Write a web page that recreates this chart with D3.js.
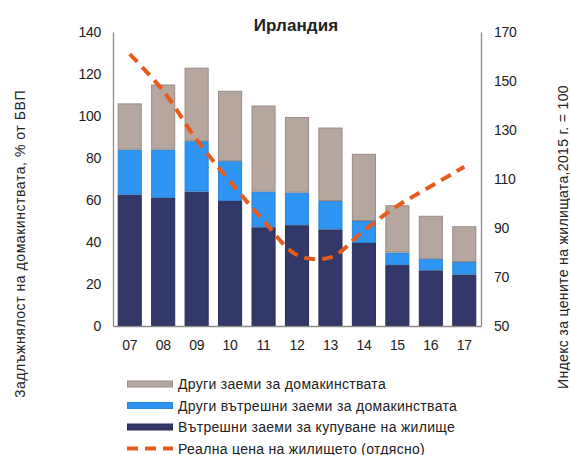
<!DOCTYPE html>
<html>
<head>
<meta charset="utf-8">
<script src="https://cdn.jsdelivr.net/npm/d3@7"></script>
<style>
  body { margin: 0; background: #fff; }
  text { font-family: "Liberation Sans", Arial, sans-serif; fill: #222; }
</style>
</head>
<body>
<div class="chart"></div>
<script>
// data
var years = ["07", "08", "09", "10", "11", "12", "13", "14", "15", "16", "17"]
var housingLoans = [62.5, 61, 64, 59.5, 47, 48, 46, 39.5, 29, 26.5, 24.5]
var otherDomestic = [21.5, 23, 24, 19, 17, 15.5, 13.5, 10.5, 6, 5.5, 6]
var otherLoans = [22, 31, 35, 33.5, 41, 36, 35, 32, 22.5, 20.5, 17]
var housePrice = [161, 146, 126, 109, 93, 79, 78, 89, 99, 107, 115]
var leftTicks = [0, 20, 40, 60, 80, 100, 120, 140]
var rightTicks = [50, 70, 90, 110, 130, 150, 170]
var seriesNames = ["Други заеми за домакинствата", "Други вътрешни заеми за домакинствата", "Вътрешни заеми за купуване на жилище", "Реална цена на жилището (отдясно)"]

var colors = { housing: "#343869", other: "#2f95f3", gray: "#b5a79f", line: "#e85a1c" }
var strokes = { housing: "#2a2d58", other: "#2a84d8", gray: "#9a8a82" }

var W = 570, H = 455
var margin = { top: 32, right: 89, bottom: 129, left: 113 }
var width = W - margin.left - margin.right,
    height = H - margin.top - margin.bottom

var svg = d3.select(".chart").append("svg")
    .attr("width", W)
    .attr("height", H)

var g = svg.append("g")
    .attr("transform", "translate(" + margin.left + "," + margin.top + ")")

var x = d3.scaleBand().domain(years).range([0, width]).paddingInner(0.28).paddingOuter(0.14)
var y = d3.scaleLinear().domain([0, 140]).range([height, 0])
var y2 = d3.scaleLinear().domain([50, 170]).range([height, 0])

// stacked bars
var rows = years.map(function (yr, i) {
    return { year: yr, housing: housingLoans[i], other: otherDomestic[i], gray: otherLoans[i] }
})
var stack = d3.stack().keys(["housing", "other", "gray"])(rows)

g.selectAll("g.layer")
    .data(stack)
    .join("g")
    .attr("class", "layer")
    .attr("fill", function (d) { return colors[d.key] })
    .attr("stroke", function (d) { return strokes[d.key] })
    .selectAll("rect")
    .data(function (d) { return d })
    .join("rect")
    .attr("x", function (d) { return x(d.data.year) + 0.5 })
    .attr("y", function (d) { return y(d[1]) + 0.5 })
    .attr("width", x.bandwidth() - 1)
    .attr("height", function (d) { return Math.max(0, y(d[0]) - y(d[1]) - 1) })
    .attr("stroke-width", 1)

// axes
var axisColor = "#8c8c8c"
function styleTicks(a) {
    a.select(".domain").attr("stroke", axisColor).attr("stroke-width", 1.3)
    a.selectAll("text").style("font-size", "14px").style("letter-spacing", "-0.3px")
}

g.append("g")
    .call(d3.axisLeft(y).tickValues(leftTicks).tickSize(0).tickPadding(12))
    .call(styleTicks)

g.append("g")
    .attr("transform", "translate(" + width + ",0)")
    .call(d3.axisRight(y2).tickValues(rightTicks).tickSize(0).tickPadding(13))
    .call(styleTicks)

g.append("g")
    .attr("transform", "translate(0," + height + ")")
    .call(d3.axisBottom(x).tickSize(0).tickPadding(14))
    .call(styleTicks)

// house price line
var line = d3.line()
    .x(function (d, i) { return x(years[i]) + x.bandwidth() / 2 })
    .y(function (d) { return y2(d) })
    .curve(d3.curveCatmullRom)

g.append("path")
    .datum(housePrice)
    .attr("fill", "none")
    .attr("stroke", colors.line)
    .attr("stroke-width", 4)
    .attr("stroke-dasharray", "11,7")
    .attr("d", line)

// title
svg.append("text")
    .attr("x", 296)
    .attr("y", 31)
    .attr("text-anchor", "middle")
    .style("font-size", "17px")
    .style("font-weight", "bold")
    .style("letter-spacing", "0.1px")
    .text("Ирландия")

// axis titles
svg.append("text")
    .attr("transform", "translate(25,244) rotate(-90)")
    .attr("text-anchor", "middle")
    .style("font-size", "14px")
    .style("letter-spacing", "0.55px")
    .text("Задлъжнялост на домакинствата, % от БВП")

svg.append("text")
    .attr("transform", "translate(568,237) rotate(-90)")
    .attr("text-anchor", "middle")
    .style("font-size", "14px")
    .style("letter-spacing", "0.35px")
    .text("Индекс за цените на жилищата,2015 г. = 100")

// legend
var legend = svg.append("g").attr("transform", "translate(127,384)")
var legendKeys = ["gray", "other", "housing", "line"]
legendKeys.forEach(function (k, i) {
    var row = legend.append("g").attr("transform", "translate(0," + (i * 21.5) + ")")
    if (k === "line") {
        row.append("line")
            .attr("x1", 0).attr("x2", 46)
            .attr("stroke", colors.line)
            .attr("stroke-width", 4)
            .attr("stroke-dasharray", "11,7")
    } else {
        row.append("rect")
            .attr("x", 0.5).attr("y", -3)
            .attr("width", 45).attr("height", 6)
            .attr("fill", colors[k])
            .attr("stroke", strokes[k])
    }
    row.append("text")
        .attr("x", 51)
        .attr("y", 5)
        .style("font-size", "14px")
        .style("letter-spacing", "0.3px")
        .text(seriesNames[i])
})
</script>
</body>
</html>
